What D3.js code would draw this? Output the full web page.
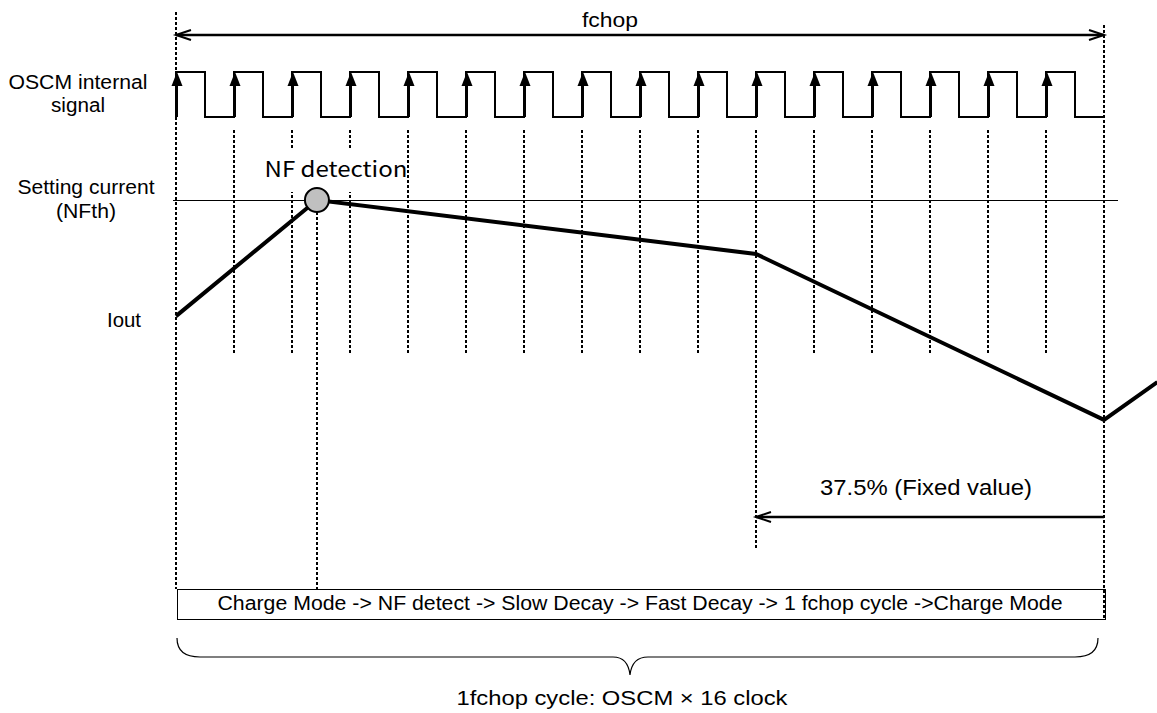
<!DOCTYPE html>
<html>
<head>
<meta charset="utf-8">
<script src="https://cdn.jsdelivr.net/npm/d3@7"></script>
<style>
  body{margin:0;background:#fff;}
  text{font-family:"Liberation Sans",Arial,sans-serif;fill:#000;}
</style>
</head>
<body>
<div id="result"></div>
<script>
// one fchop cycle = 16 OSCM clocks
var clockCount   = 16;
var ioutTime     = [0, 2.43, 10, 16, 16.92];      // in OSCM clocks
var ioutLevel    = [0.613, 1.0, 0.82, 0.267, 0.393]; // relative to NFth
var nfthLevel    = 1.0;
var nfDetectTime = 2.43;
var fixedStart   = 10;      // 37.5% of 16 clocks before the end
var fixedLabel   = "37.5% (Fixed value)";
var sideLabels   = [["OSCM internal", "signal"], ["Setting current", "(NFth)"], ["Iout"]];
var modeText     = "Charge Mode -> NF detect -> Slow Decay -> Fast Decay -> 1 fchop cycle ->Charge Mode";
var cycleText    = "1fchop cycle: OSCM \u00d7 16 clock";

(function(){
	'use strict';

	var W = 1157, H = 713;

	var svg = d3.select("#result")
		.append("svg")
		.attr("width", W)
		.attr("height", H);

	svg.append("rect").attr("width", W).attr("height", H).attr("fill", "#fff");

	var x  = d3.scaleLinear().domain([0, clockCount]).range([176, 1104]);
	var yI = d3.scaleLinear().domain([0, 1]).range([500, 200]);
	var yC = d3.scaleLinear().domain([0, 1]).range([117, 72]);

	var dash = "3,2";

	// vertical dotted guides
	var guides = [];
	for (var k = 1; k < clockCount; k++){
		guides.push({t:k, y0:130, y1:(k == fixedStart ? 548 : 355)});
	}
	guides.push({t:0, y0:12, y1:589});
	guides.push({t:clockCount, y0:25, y1:620});

	svg.selectAll("line.guide")
		.data(guides)
		.enter()
		.append("line")
		.attr("class", "guide")
		.attr("x1", function(d){return Math.round(x(d.t));})
		.attr("x2", function(d){return Math.round(x(d.t));})
		.attr("y1", function(d){return d.y0;})
		.attr("y2", function(d){return d.y1;})
		.attr("stroke", "#000")
		.attr("stroke-width", 2)
		.attr("shape-rendering", "crispEdges")
		.attr("stroke-dasharray", dash);

	// NF detection guide
	svg.append("line")
		.attr("x1", Math.round(x(nfDetectTime))).attr("x2", Math.round(x(nfDetectTime)))
		.attr("y1", yI(nfthLevel) + 12).attr("y2", 589)
		.attr("stroke", "#000")
		.attr("stroke-width", 2)
		.attr("shape-rendering", "crispEdges")
		.attr("stroke-dasharray", dash);

	// top fchop arrow
	function openArrow(xa, xb, y, both){
		var g = svg.append("g").attr("stroke", "#000").attr("fill", "none");
		g.append("line").attr("x1", xa).attr("x2", xb).attr("y1", y).attr("y2", y)
			.attr("stroke-width", 2.5);
		var heads = both ? [xa, xb] : [xb];
		heads.forEach(function(hx){
			var dir = (hx == xa) ? 1 : -1;
			if (!both) dir = xb < xa ? 1 : -1;
			g.append("path")
				.attr("d", "M" + (hx + dir*15) + "," + (y-5) + "L" + hx + "," + y + "L" + (hx + dir*15) + "," + (y+5))
				.attr("stroke-width", 2);
		});
	}
	openArrow(x(0), x(clockCount), 35, true);

	svg.append("text")
		.attr("x", 610).attr("y", 27)
		.attr("text-anchor", "middle")
		.attr("font-size", 21)
		.attr("textLength", 56).attr("lengthAdjust", "spacingAndGlyphs")
		.text("fchop");

	// clock waveform
	var clockPts = [];
	for (var i = 0; i < clockCount; i++){
		clockPts.push([i, 0], [i, 1], [i + 0.5, 1], [i + 0.5, 0]);
	}
	clockPts.push([clockCount, 0]);

	svg.append("path")
		.datum(clockPts)
		.attr("d", d3.line().x(function(d){return x(d[0]);}).y(function(d){return yC(d[1]);}))
		.attr("fill", "none")
		.attr("stroke", "#000")
		.attr("stroke-width", 2);

	// rising edge arrows
	var edges = d3.range(clockCount);
	svg.selectAll("line.edge")
		.data(edges)
		.enter()
		.append("line")
		.attr("class", "edge")
		.attr("x1", function(d){return x(d) + 1;})
		.attr("x2", function(d){return x(d) + 1;})
		.attr("y1", yC(0))
		.attr("y2", yC(1) + 8)
		.attr("stroke", "#000")
		.attr("stroke-width", 2);

	svg.selectAll("path.edgehead")
		.data(edges)
		.enter()
		.append("path")
		.attr("class", "edgehead")
		.attr("d", function(d){
			var cx = x(d) + 1, ty = yC(1);
			return "M" + cx + "," + ty + "L" + (cx + 5.5) + "," + (ty + 14) + "L" + (cx - 5.5) + "," + (ty + 14) + "Z";
		})
		.attr("fill", "#000");

	// setting current line
	svg.append("line")
		.attr("x1", 173).attr("x2", 1118)
		.attr("y1", yI(nfthLevel)).attr("y2", yI(nfthLevel))
		.attr("stroke", "#000")
		.attr("stroke-width", 1)
		.attr("shape-rendering", "crispEdges");

	// NF detection label
	svg.append("rect")
		.attr("x", 258).attr("y", 148).attr("width", 146).attr("height", 44)
		.attr("fill", "#fff");
	svg.append("text")
		.attr("x", 336).attr("y", 177)
		.attr("text-anchor", "middle")
		.attr("font-size", 21)
		.style("font-family", "'Noto Sans CJK JP', 'Noto Sans', sans-serif")
		.attr("textLength", 143).attr("lengthAdjust", "spacingAndGlyphs")
		.text("NF detection");

	// Iout
	var iout = ioutTime.map(function(t, i){return [t, ioutLevel[i]];});
	svg.append("path")
		.datum(iout)
		.attr("d", d3.line().x(function(d){return x(d[0]);}).y(function(d){return yI(d[1]);}))
		.attr("fill", "none")
		.attr("stroke", "#000")
		.attr("stroke-width", 4)
		.attr("stroke-linejoin", "miter");

	svg.append("circle")
		.attr("cx", x(nfDetectTime))
		.attr("cy", yI(nfthLevel))
		.attr("r", 12)
		.attr("fill", "#c0c0c0")
		.attr("stroke", "#000")
		.attr("stroke-width", 2);

	// side labels
	var sideLayout = [
		{cx:78, ys:[89, 112], w:[139, 54]},
		{cx:86, ys:[194, 218], w:[137, 60]},
		{cx:124, ys:[327], w:[34]}
	];
	sideLabels.forEach(function(lines, i){
		lines.forEach(function(s, j){
			svg.append("text")
				.attr("x", sideLayout[i].cx)
				.attr("y", sideLayout[i].ys[j])
				.attr("text-anchor", "middle")
				.attr("font-size", 20)
				.attr("textLength", sideLayout[i].w[j]).attr("lengthAdjust", "spacingAndGlyphs")
				.text(s);
		});
	});

	// fixed-value arrow
	openArrow(x(clockCount), x(fixedStart), 517, false);
	svg.append("text")
		.attr("x", 926).attr("y", 495)
		.attr("text-anchor", "middle")
		.attr("font-size", 22)
		.attr("textLength", 212).attr("lengthAdjust", "spacingAndGlyphs")
		.text(fixedLabel);

	// mode box
	svg.append("rect")
		.attr("x", x(0) + 1).attr("y", 589)
		.attr("width", x(clockCount) - x(0)).attr("height", 30)
		.attr("fill", "none")
		.attr("stroke", "#000")
		.attr("stroke-width", 1)
		.attr("shape-rendering", "crispEdges");
	svg.append("text")
		.attr("x", 640).attr("y", 610)
		.attr("text-anchor", "middle")
		.attr("font-size", 20)
		.attr("textLength", 845).attr("lengthAdjust", "spacingAndGlyphs")
		.text(modeText);

	// brace
	var bl = x(0) + 1, br = x(clockCount) - 6, tip = 630;
	svg.append("path")
		.attr("d", "M" + bl + ",638 Q" + bl + ",657 " + (bl + 23) + ",657 L" + (tip - 17) + ",657 Q" + (tip - 2) + ",657 " + tip + ",675 Q" + (tip + 2) + ",657 " + (tip + 18) + ",657 L" + (br - 23) + ",657 Q" + br + ",657 " + br + ",638")
		.attr("fill", "none")
		.attr("stroke", "#000")
		.attr("stroke-width", 1.2);

	svg.append("text")
		.attr("x", 622).attr("y", 705)
		.attr("text-anchor", "middle")
		.attr("font-size", 21)
		.attr("textLength", 331).attr("lengthAdjust", "spacingAndGlyphs")
		.text(cycleText);

})();
</script>
</body>
</html>
